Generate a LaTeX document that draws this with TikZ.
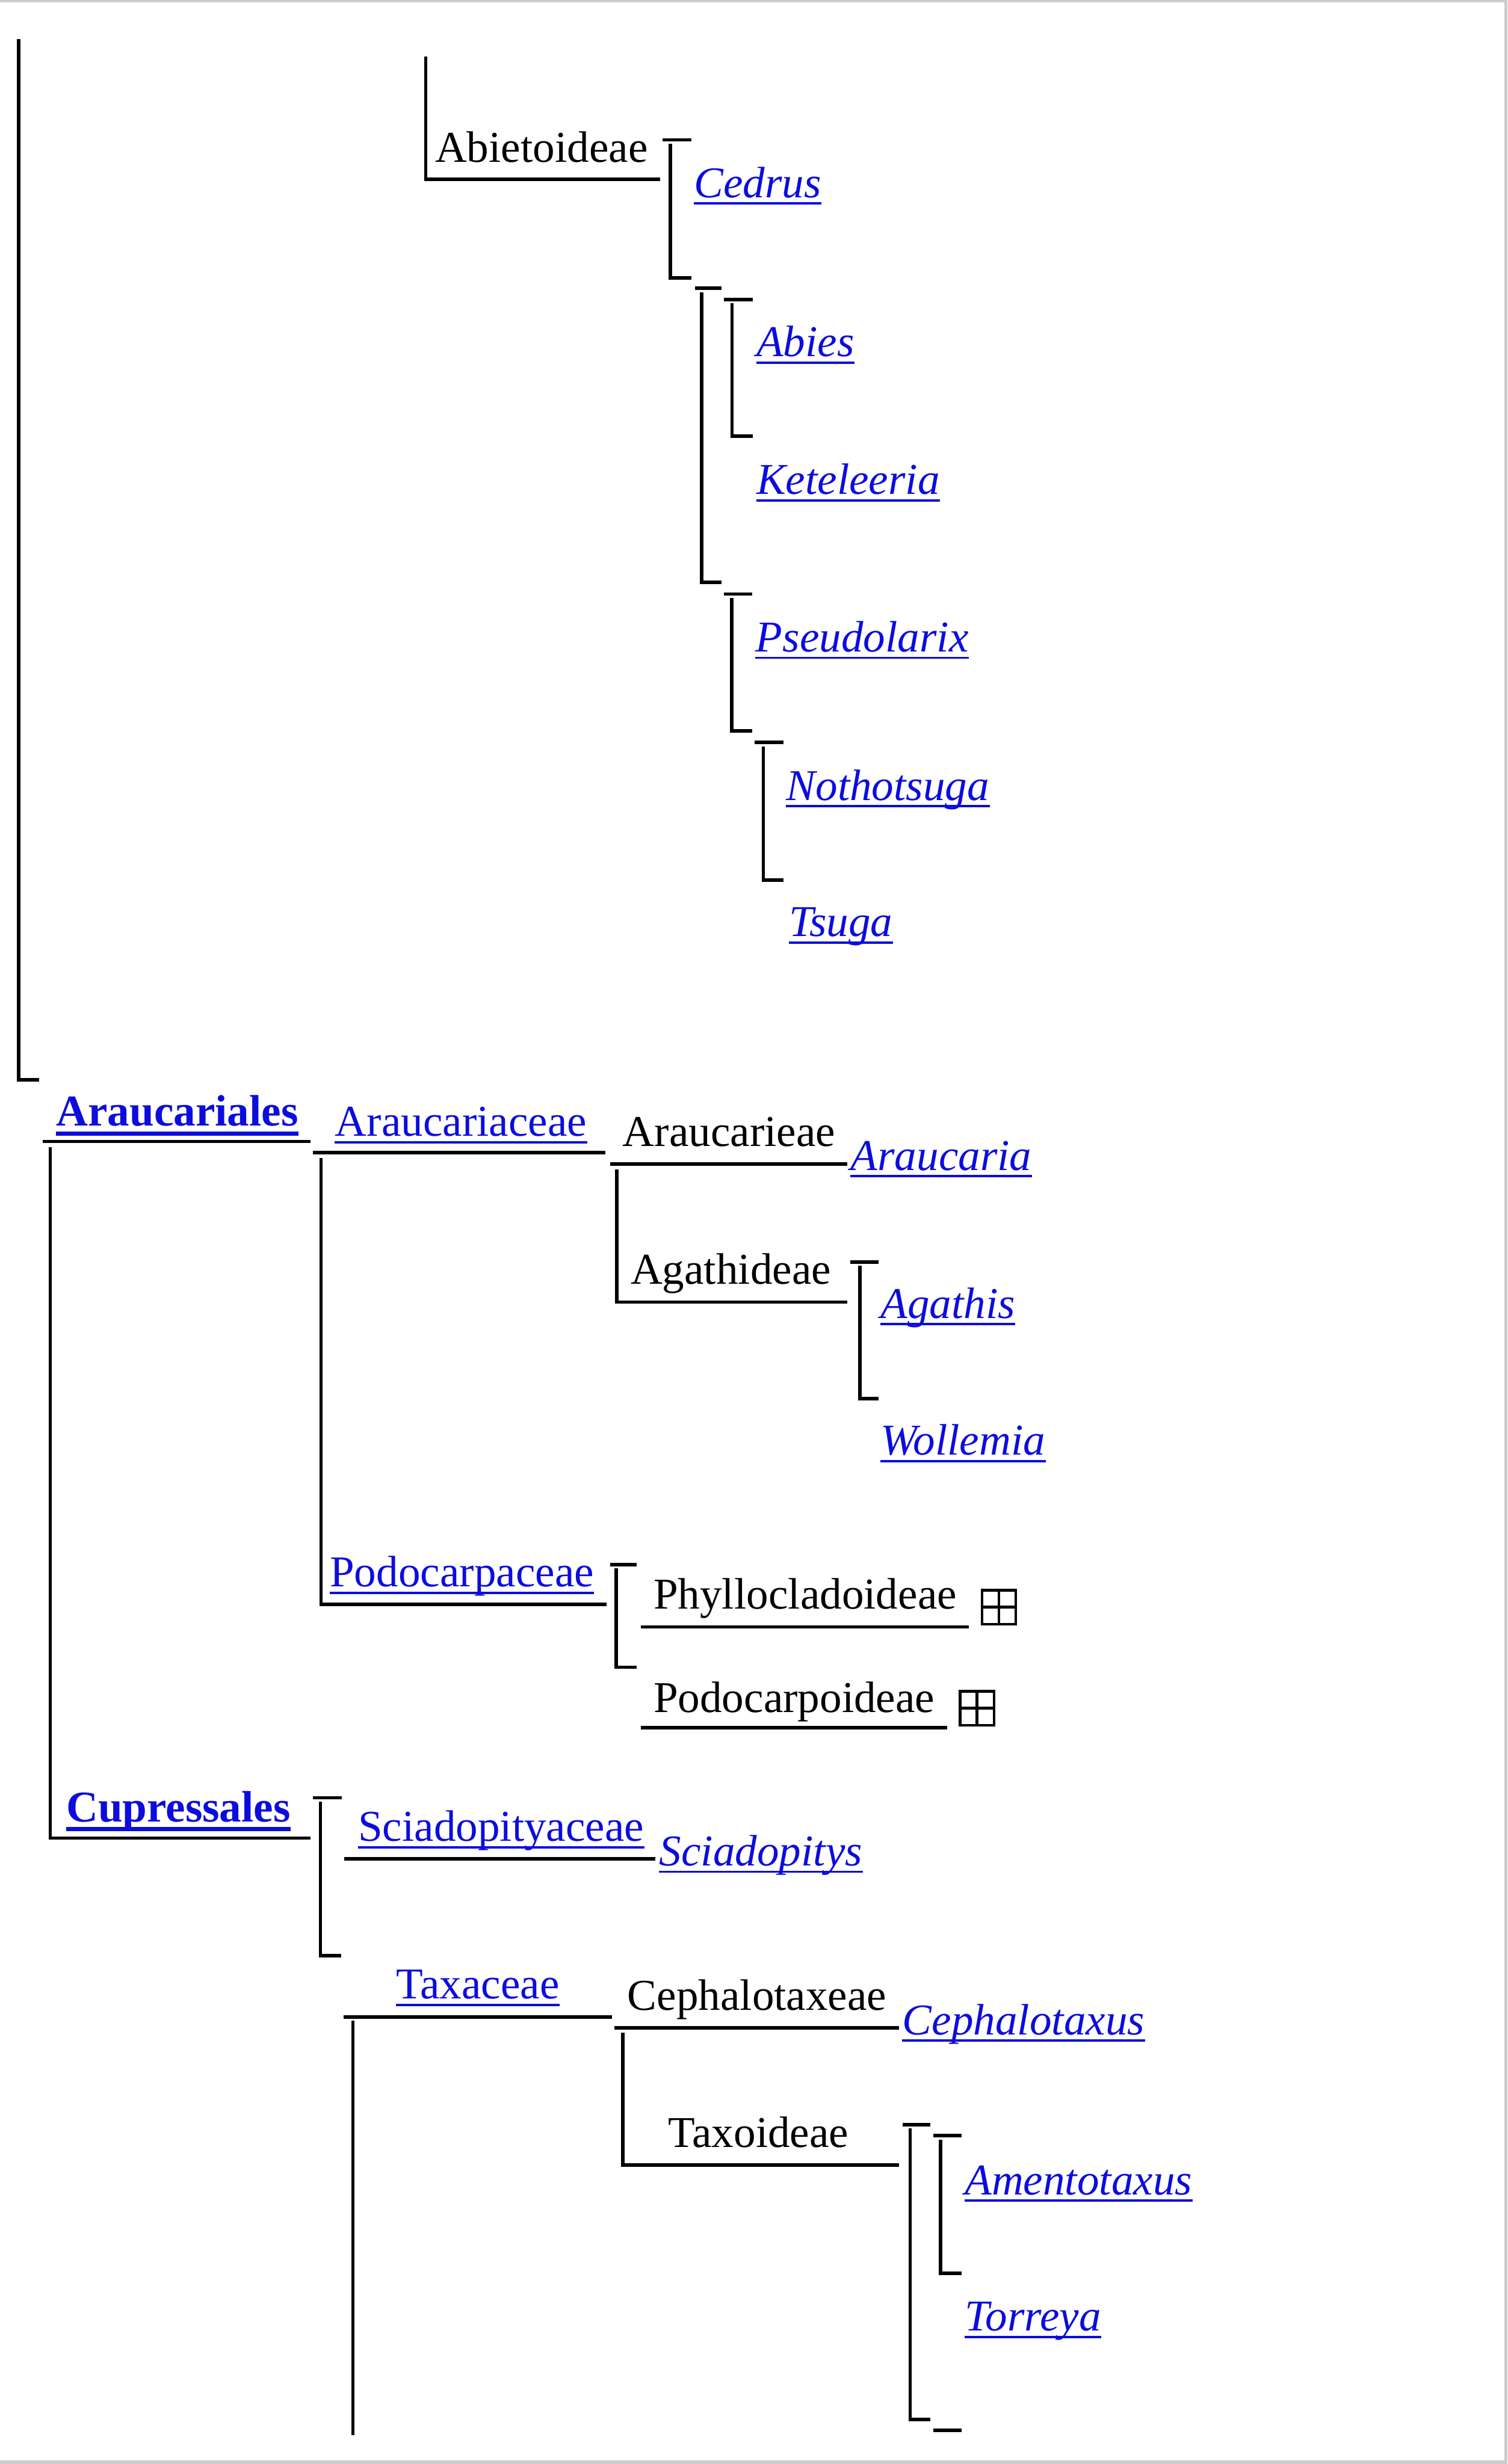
\documentclass[tikz,border=0pt]{standalone}
\usepackage{fontspec}
\setmainfont{Liberation Serif}
\definecolor{linkblue}{RGB}{12,12,222}
\tikzset{
  branch/.style={line width=2.2pt},
  taxon/.style={anchor=base west, inner sep=0pt, font=\fontsize{28}{34}\selectfont},
  link/.style={taxon, text=linkblue},
  genus/.style={taxon, text=linkblue, font=\fontsize{28}{34}\selectfont\itshape},
  order/.style={taxon, text=linkblue, font=\fontsize{28}{34}\selectfont\bfseries},
  ul/.style={draw=linkblue, line width=1.5pt},
  ulbold/.style={draw=linkblue, line width=2.7pt},
  morebox/.style={draw, line width=1.6pt, minimum size=21.5pt, inner sep=0pt},
}
\begin{document}
\begin{tikzpicture}[x=1pt,y=-1pt]
\useasboundingbox (0,0) rectangle (959,1568);
\fill[gray!40] (0,0) rectangle (959,1.6);
\fill[gray!40] (957,0) rectangle (959,1568);
\fill[gray!40] (0,1565.6) rectangle (959,1568);

% Pinaceae
\draw[branch] (12,25) -- (12,687) -- (25,687);
\node[taxon] (abiet) at (276.6,103.2) {Abietoideae};
\draw[branch] (270.8,36) -- (270.8,114) -- (420,114);
\draw[branch] (421.5,89) -- (440,89);
\draw[branch] (426.4,91.5) -- (426.4,177) -- (440,177);
\node[genus] (cedrus) at (441.4,125.7) {Cedrus};
\draw[branch] (442,183.5) -- (459,183.5);
\draw[branch] (446.3,186) -- (446.3,370.5) -- (459,370.5);
\draw[branch] (460.6,190.5) -- (479,190.5);
\draw[branch] (465.7,193) -- (465.7,277.5) -- (479,277.5);
\node[genus] (abies) at (481,226.9) {Abies};
\node[genus] (ketel) at (481,314.6) {Keteleeria};
\draw[branch] (460.5,378) -- (478.6,378);
\draw[branch] (465.5,380.5) -- (465.5,465) -- (478.6,465);
\node[genus] (pseudo) at (480.6,414.8) {Pseudolarix};
\draw[branch] (480,472.4) -- (498.4,472.4);
\draw[branch] (485.6,475) -- (485.6,560) -- (498.4,560);
\node[genus] (notho) at (500,509.2) {Nothotsuga};
\node[genus] (tsuga) at (501.7,596) {Tsuga};

% Araucariales
\node[order] (araucales) at (35.6,716.6) {Araucariales};
\draw[branch] (27,726.4) -- (197.5,726.4);
\draw[branch] (32,730) -- (32,1169.7) -- (197.5,1169.7);
\node[link] (araucaceae) at (213,723) {Araucariaceae};
\draw[branch] (199,733.6) -- (385,733.6);
\draw[branch] (204.2,737) -- (204.2,1021) -- (385.7,1021);
\node[taxon] (araucieae) at (396,729.5) {Araucarieae};
\draw[branch] (388,740.6) -- (539,740.6);
\draw[branch] (392.5,744) -- (392.5,828.6) -- (539,828.6);
\node[genus] (araucaria) at (541,744.7) {Araucaria};
\node[taxon] (agathid) at (401,817) {Agathideae};
\draw[branch] (541,803) -- (559,803);
\draw[branch] (547,805.5) -- (547,890) -- (559,890);
\node[genus] (agathis) at (560,838.8) {Agathis};
\node[genus] (wollemia) at (560,926) {Wollemia};
\node[link] (podocaceae) at (209.7,1009.5) {Podocarpaceae};
\draw[branch] (388,995.7) -- (405,995.7);
\draw[branch] (392,998) -- (392,1061) -- (405,1061);
\node[taxon] (phyllo) at (415.6,1024) {Phyllocladoideae};
\draw[branch] (407.6,1035.3) -- (616.5,1035.3);
\node[morebox] (phyllobox) at (635.5,1022.7) {};
\node[taxon] (podoideae) at (415.6,1089.7) {Podocarpoideae};
\draw[branch] (407.6,1099.5) -- (602.5,1099.5);
\node[morebox] (podobox) at (621.5,1087) {};
\foreach \b in {phyllobox,podobox}
  \draw[line width=1.6pt] (\b.north) -- (\b.south) (\b.west) -- (\b.east);

% Cupressales
\node[order] (cupress) at (42,1159.4) {Cupressales};
\draw[branch] (199,1144) -- (217.5,1144);
\draw[branch] (203.8,1146.5) -- (203.8,1244.5) -- (217,1244.5);
\node[link] (sciaceae) at (227.6,1171.6) {Sciadopityaceae};
\draw[branch] (218.9,1183) -- (416.7,1183);
\node[genus] (sciadopitys) at (419.3,1187.3) {Sciadopitys};
\node[link] (taxaceae) at (252,1272) {Taxaceae};
\draw[branch] (218.7,1283.5) -- (389.3,1283.5);
\draw[branch] (224.5,1286) -- (224.5,1549.6);
\node[taxon] (cephaleae) at (399,1279) {Cephalotaxeae};
\draw[branch] (391,1290.4) -- (572,1290.4);
\draw[branch] (396.3,1293.5) -- (396.3,1377.7) -- (572,1377.7);
\node[genus] (cephalotaxus) at (574,1294.7) {Cephalotaxus};
\node[taxon] (taxoid) at (425,1366.6) {Taxoideae};
\draw[branch] (574.2,1352) -- (591.8,1352);
\draw[branch] (579,1354.5) -- (579,1539.6) -- (591.8,1539.6);
\draw[branch] (593.7,1359) -- (611.8,1359);
\draw[branch] (598.3,1361.5) -- (598.3,1446.5) -- (611.8,1446.5);
\node[genus] (amento) at (613.6,1396.6) {Amentotaxus};
\node[genus] (torreya) at (613.6,1483.3) {Torreya};
\draw[branch] (593.7,1546.6) -- (611.8,1546.6);

% underlines of the links
\foreach \n in {cedrus,abies,ketel,pseudo,notho,tsuga,araucaria,agathis,wollemia,sciadopitys,cephalotaxus,amento,torreya}
  \draw[ul] ([yshift=-3.8pt]\n.base west) -- ([yshift=-3.8pt]\n.base east);
\foreach \n in {araucaceae,podocaceae,sciaceae,taxaceae}
  \draw[ul] ([yshift=-4pt]\n.base west) -- ([yshift=-4pt]\n.base east);
\foreach \n in {araucales,cupress}
  \draw[ulbold] ([yshift=-4.7pt]\n.base west) -- ([yshift=-4.7pt]\n.base east);
\end{tikzpicture}
\end{document}
